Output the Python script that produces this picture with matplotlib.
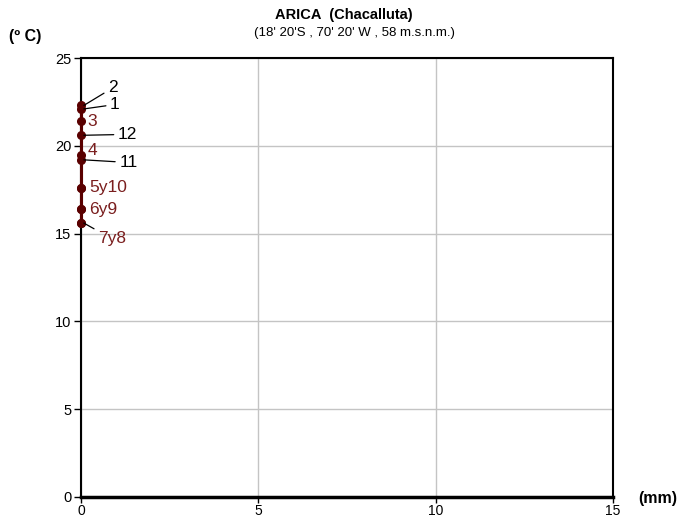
import matplotlib
matplotlib.use("Agg")
import matplotlib.pyplot as plt
from matplotlib import font_manager

months = ["1", "2", "3", "4", "5", "6", "7", "8", "9", "10", "11", "12"]
precip_mm = [0.0, 0.0, 0.0, 0.0, 0.0, 0.0, 0.0, 0.0, 0.0, 0.0, 0.0, 0.0]
temp_c = [22.1, 22.3, 21.4, 19.5, 17.6, 16.4, 15.6, 15.6, 16.4, 17.6, 19.2, 20.6]

# labels: text, anchor month index, text position (mm, degC), colour key, leader line
label_texts = ["2", "1", "3", "12", "4", "11", "5y10", "6y9", "7y8"]
label_month = [2, 1, 3, 12, 4, 11, 5, 6, 7]
label_x = [0.76, 0.82, 0.17, 1.04, 0.20, 1.08, 0.23, 0.23, 0.48]
label_y = [23.3, 22.35, 21.4, 20.65, 19.75, 19.05, 17.6, 16.4, 14.7]
label_red = [False, False, True, False, True, False, True, True, True]
label_leader = [True, True, False, True, False, True, False, False, True]

xticks = [0, 5, 10, 15]
yticks = [0, 5, 10, 15, 20, 25]

fams = [f.name for f in font_manager.fontManager.ttflist]
fam = ["Liberation Sans Narrow"] if "Liberation Sans Narrow" in fams else ["Liberation Sans"]
plt.rcParams["font.family"] = fam + ["DejaVu Sans"]

DARK = "#5a0000"
LABRED = "#7a1e1e"

fig = plt.figure(figsize=(6.84, 5.21), dpi=100)
ax = fig.add_axes([81 / 684, 24 / 521, 532 / 684, 439 / 521])
ax.set_xlim(0, 15)
ax.set_ylim(0, 25)
ax.set_xticks(xticks)
ax.set_yticks(yticks)
ax.grid(True, color="#c4c4c4", lw=1.0)
ax.set_axisbelow(True)
for s in ["top", "right", "left"]:
    ax.spines[s].set_linewidth(1.5)
ax.spines["bottom"].set_linewidth(2.5)
ax.tick_params(axis="both", direction="out", length=5, width=1, labelsize=10.5, pad=2)
ax.tick_params(axis="x", pad=1, length=4, labelsize=10)

xs = precip_mm + [precip_mm[0]]
ys = temp_c + [temp_c[0]]
ax.plot(xs, ys, color=DARK, lw=2.2, clip_on=False, zorder=5)
ax.plot(precip_mm, temp_c, "o", color=DARK, ms=5.5, clip_on=False, zorder=6)

for t, m, lx, ly, red, lead in zip(label_texts, label_month, label_x, label_y, label_red, label_leader):
    px, py = precip_mm[m - 1], temp_c[m - 1]
    col = LABRED if red else "black"
    if lead:
        ax.annotate(t, xy=(px + 0.08, py), xytext=(lx, ly), color=col, fontsize=12.5,
                    ha="left", va="center",
                    arrowprops=dict(arrowstyle="-", color="black", lw=0.9,
                                    shrinkA=1, shrinkB=0), zorder=7)
    else:
        ax.text(lx, ly, t, color=col, fontsize=12.5, ha="left", va="center", zorder=7)

fig.text(344 / 684, 1 - 15 / 521, "ARICA  (Chacalluta)", ha="center", va="center",
         fontsize=10.5, fontweight="bold")
fig.text(354 / 684, 1 - 33 / 521, "(18' 20'S , 70' 20' W , 58 m.s.n.m.)", ha="center",
         va="center", fontsize=9.5)
fig.text(9 / 684, 1 - 36 / 521, "(º C)", ha="left", va="center", fontsize=11.5,
         fontweight="bold")
fig.text(638 / 684, 1 - 499 / 521, "(mm)", ha="left", va="center", fontsize=11.5,
         fontweight="bold")

fig.savefig("out.png", dpi=100)
